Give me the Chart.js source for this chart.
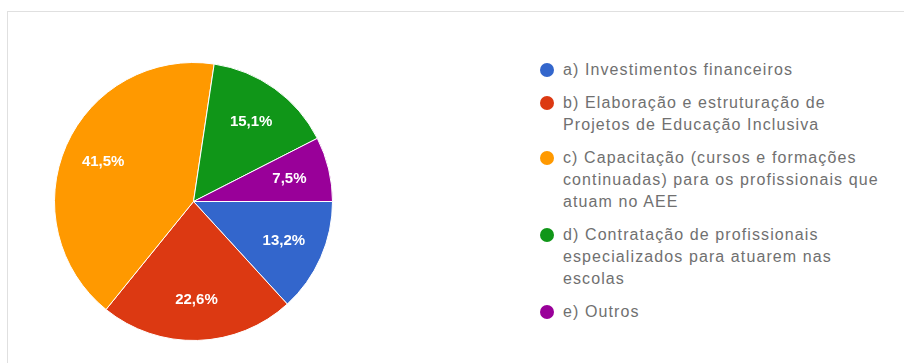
<!DOCTYPE html>
<html>
<head>
<meta charset="utf-8">
<script src="https://cdn.jsdelivr.net/npm/chart.js@4/dist/chart.umd.min.js"></script>
<style>
  html, body { margin: 0; padding: 0; background: #fff; }
  body { width: 904px; height: 363px; position: relative; overflow: hidden; font-family: Arial, "Liberation Sans", sans-serif; }
  .frame { position: absolute; left: 7px; top: 11px; width: 920px; height: 400px; border: 1px solid #e0e0e0; box-sizing: border-box; }
  #pieWrap { position: absolute; left: 54px; top: 62px; width: 279px; height: 279px; }
  #legend { position: absolute; left: 540px; top: 59px; width: 360px; list-style: none; margin: 0; padding: 0; }
  #legend li { position: relative; padding-left: 23px; margin-bottom: 11px; font-size: 16px; letter-spacing: 1.1px; line-height: 22px; color: #707070; white-space: nowrap; }
  #legend li span { position: absolute; left: 0; top: 4px; width: 14px; height: 14px; border-radius: 50%; }
</style>
</head>
<body>
<div class="frame"></div>
<div id="pieWrap"><canvas id="pieChart" width="279" height="279"></canvas></div>
<ul id="legend"></ul>
<script>
  // Answers and their share of responses (%)
  const categories = [
    'a) Investimentos financeiros',
    'b) Elaboração e estruturação de\nProjetos de Educação Inclusiva',
    'c) Capacitação (cursos e formações\ncontinuadas) para os profissionais que\natuam no AEE',
    'd) Contratação de profissionais\nespecializados para atuarem nas\nescolas',
    'e) Outros'
  ];
  const percentages = [13.2, 22.6, 41.5, 15.1, 7.5];
  const sliceColors = ['#3366cc', '#dc3912', '#ff9900', '#109618', '#990099'];

  // Legend with wrapped lines
  const legendEl = document.getElementById('legend');
  categories.forEach(function (label, i) {
    const li = document.createElement('li');
    const dot = document.createElement('span');
    dot.style.background = sliceColors[i];
    li.appendChild(dot);
    label.split('\n').forEach(function (line, j) {
      if (j > 0) li.appendChild(document.createElement('br'));
      li.appendChild(document.createTextNode(line));
    });
    legendEl.appendChild(li);
  });

  // Percentage text inside each slice
  const sliceLabels = {
    id: 'sliceLabels',
    afterDatasetsDraw(chart) {
      const ctx = chart.ctx;
      const meta = chart.getDatasetMeta(0);
      ctx.save();
      ctx.fillStyle = '#ffffff';
      ctx.font = 'bold 15px Arial, "Liberation Sans", sans-serif';
      ctx.textAlign = 'center';
      ctx.textBaseline = 'middle';
      meta.data.forEach(function (arc, i) {
        const p = arc.getProps(['x', 'y', 'startAngle', 'endAngle', 'outerRadius'], true);
        const mid = (p.startAngle + p.endAngle) / 2;
        const r = p.outerRadius * 0.71;
        const text = percentages[i].toFixed(1).replace('.', ',') + '%';
        ctx.fillText(text, p.x + Math.cos(mid) * r, p.y + Math.sin(mid) * r);
      });
      ctx.restore();
    }
  };

  const pieCtx = document.getElementById('pieChart').getContext('2d');
  const pieChart = new Chart(pieCtx, {
    type: 'pie',
    data: {
      labels: categories,
      datasets: [{
        data: percentages,
        backgroundColor: sliceColors,
        borderColor: '#ffffff',
        borderWidth: 1
      }]
    },
    options: {
      responsive: false,
      animation: false,
      rotation: 90,
      layout: { padding: 0 },
      plugins: {
        legend: { display: false },
        tooltip: { enabled: false }
      }
    },
    plugins: [sliceLabels]
  });
</script>
</body>
</html>
